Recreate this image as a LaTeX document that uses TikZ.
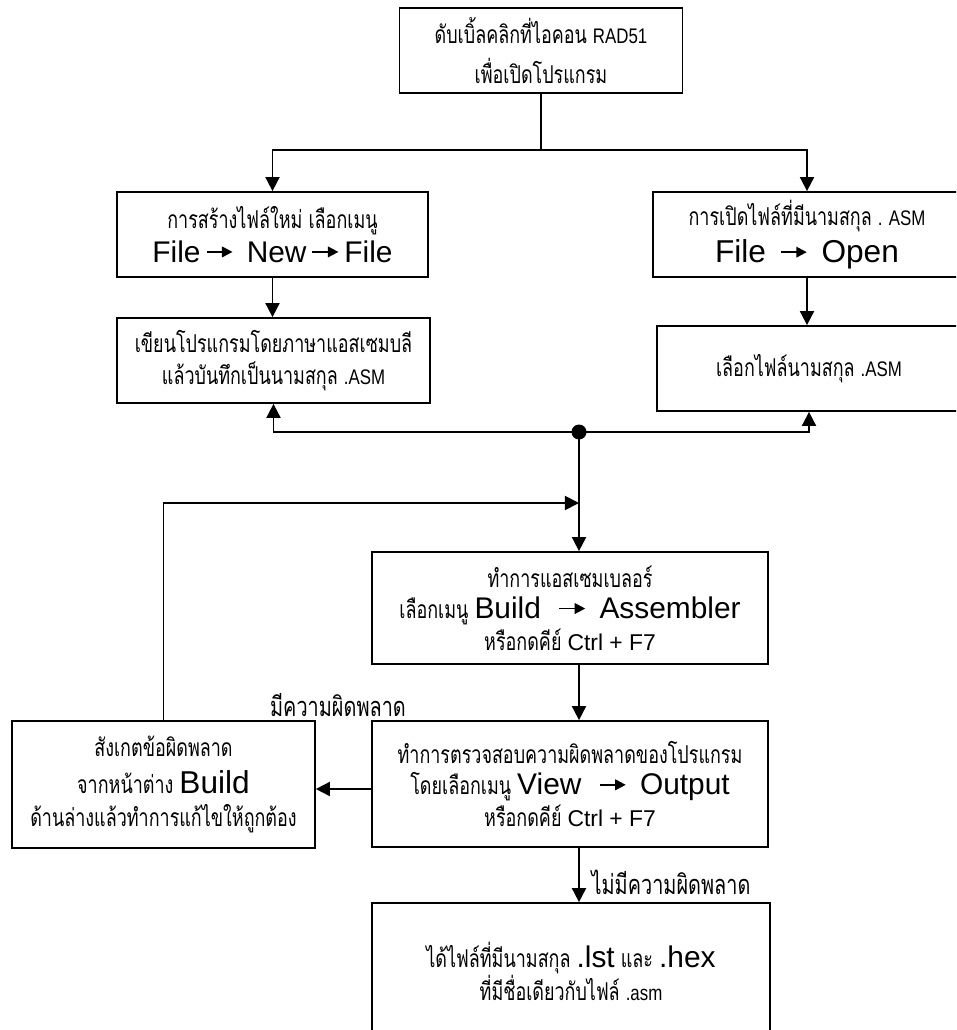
\documentclass[tikz,border=0pt]{standalone}
\usepackage{fontspec}
\usepackage{tikz}
\usetikzlibrary{arrows.meta, calc}
\setmainfont[Script=Thai, FakeStretch=0.73]{Loma}
\newfontfamily\latfont{Liberation Sans}
\newfontfamily\narrowfont[FakeStretch=0.8]{Liberation Sans}
\newcommand{\lat}[1]{{\narrowfont\fontsize{12}{18}\selectfont #1}}
\newcommand{\keyname}[1]{{\latfont\fontsize{13}{18}\selectfont #1}}
\newcommand{\menuword}[1]{{\latfont\fontsize{17}{18}\selectfont #1}}
\newcommand{\marr}{{\fontsize{17}{18}\selectfont\,\tikz[baseline=-0.34em]
    \draw[line width=1.1pt, -{Triangle[length=6pt, width=6pt]}] (0,0) -- (0.52cm,0);\,}}

\begin{document}
\begin{tikzpicture}[x=0.02cm, y=-0.02cm, >={Triangle[length=8pt, width=8pt]},
    box/.style={draw, line width=1pt, align=center, inner sep=0pt,
        font=\fontsize{14}{18}\selectfont},
    flow/.style={->, line width=1pt},
    note/.style={font=\fontsize{15.5}{17}\selectfont, inner sep=0pt}]
    % Page frame
    \useasboundingbox (0,0) rectangle (956,1030);
    \clip (0,0) rectangle (956,1030);

    % Start box
    \node[box, minimum width=5.66cm, minimum height=1.70cm] (start) at (541,50.5)
        {ดับเบิ้ลคลิกที่ไอคอน \lat{RAD51}\\[5pt]เพื่อเปิดโปรแกรม};

    % Two ways to get a source file
    \node[box, minimum width=6.22cm, minimum height=1.70cm] (newf) at (272.5,234.5)
        {การสร้างไฟล์ใหม่ เลือกเมนู\\[1pt]\menuword{File}\marr\menuword{\ New}\marr\menuword{File}};
    \node[box, minimum width=6.16cm, minimum height=1.70cm] (openf) at (807,234.5)
        {การเปิดไฟล์ที่มีนามสกุล \lat{. ASM}\\[3pt]{\latfont\fontsize{18}{18}\selectfont File \marr\ Open}};
    \node[box, minimum width=6.26cm, minimum height=1.70cm] (write) at (273.5,360.5)
        {เขียนโปรแกรมโดยภาษาแอสเซมบลี\\แล้วบันทึกเป็นนามสกุล \lat{.ASM}};
    \node[box, minimum width=6.08cm, minimum height=1.70cm] (choose) at (809,368.5)
        {เลือกไฟล์นามสกุล \lat{.ASM}};

    % Assemble and check
    \node[box, minimum width=7.92cm, minimum height=2.24cm] (asm) at (570,608)
        {ทำการแอสเซมเบลอร์\\เลือกเมนู \menuword{Build\ }\,\marr\menuword{\ Assembler}\\หรือกดคีย์ \keyname{Ctrl + F7}};
    \node[box, minimum width=7.92cm, minimum height=2.52cm] (check) at (570,784)
        {ทำการตรวจสอบความผิดพลาดของโปรแกรม\\โดยเลือกเมนู \menuword{View\ }\,\marr\menuword{\ Output}\\หรือกดคีย์ \keyname{Ctrl + F7}};
    \node[box, minimum width=6.06cm, minimum height=2.54cm] (fix) at (163.5,784.5)
        {สังเกตข้อผิดพลาด\\[3pt]จากหน้าต่าง {\latfont\fontsize{18}{18}\selectfont Build}\\[1pt]ด้านล่างแล้วทำการแก้ไขให้ถูกต้อง};
    \node[box, minimum width=7.96cm, minimum height=2.74cm] (result) at (571,971.5)
        {ได้ไฟล์ที่มีนามสกุล \menuword{.lst} และ \menuword{.hex}\\ที่มีชื่อเดียวกับไฟล์ \lat{.asm}};

    % Junctions
    \coordinate (split) at (541,150);
    \coordinate (loop) at (579,503);
    \fill (579,432) circle (7.5) coordinate (dot);

    % Connectors
    \draw[line width=1pt] (start.south) -- (split);
    \draw[flow] (split) -| (newf.north);
    \draw[flow] (split) -| (openf.north);
    \draw[flow] (newf.south) -- (newf.south |- write.north);
    \draw[flow] (openf.south) -- (openf.south |- choose.north);
    \draw[flow] (dot) -| (write.south);
    \draw[flow] (dot) -| (choose.south);
    \draw[flow] (dot) -- (dot |- asm.north);
    \draw[flow] (asm.south -| dot) -- (check.north -| dot);
    \draw[flow] ($(check.west)+(0,5)$) -- ($(fix.east)+(0,4.5)$);
    \draw[flow] (fix.north) |- (loop);
    \draw[flow] (check.south -| dot) -- (result.north -| dot);

    % Branch labels
    \node[note] (err) at (338,705) {มีความผิดพลาด};
    \node[note] (noerr) at (671,882) {ไม่มีความผิดพลาด};
\end{tikzpicture}
\end{document}
